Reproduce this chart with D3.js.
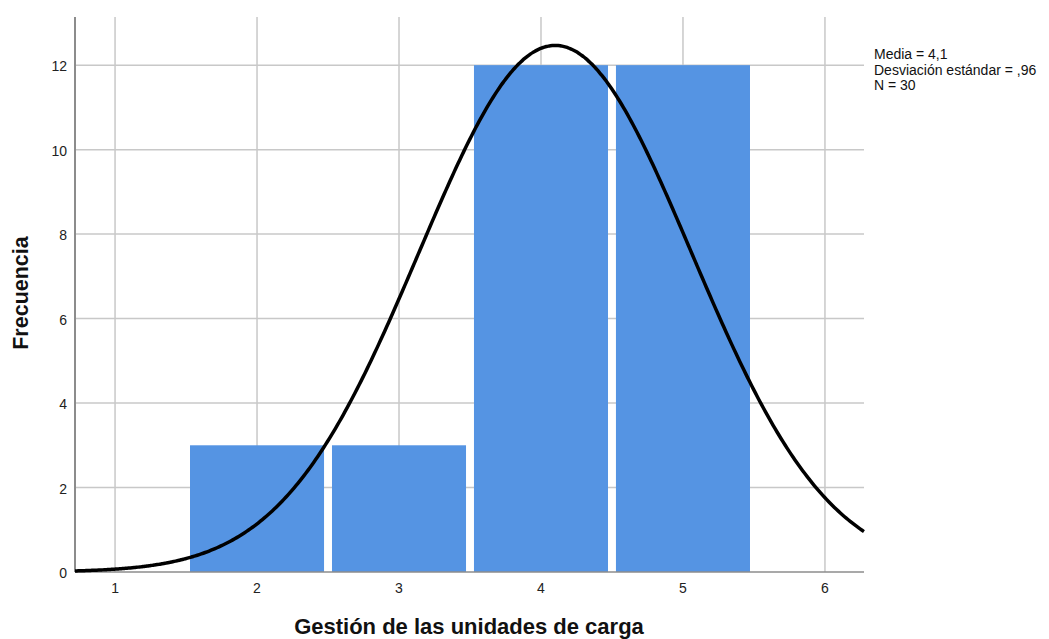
<!DOCTYPE html>
<html><head><meta charset="utf-8">
<script src="https://cdn.jsdelivr.net/npm/d3@7"></script>
<style>body{margin:0;background:#fff}svg{display:block}text{font-family:"Liberation Sans",Arial,sans-serif}</style>
</head><body>
<svg id="c" width="1049" height="639"></svg>
<script>
const binCenters = [2, 3, 4, 5];
const frequencies = [3, 3, 12, 12];
const xTicks = [1, 2, 3, 4, 5, 6];
const yTicks = [0, 2, 4, 6, 8, 10, 12];
const statsLines = ["Media = 4,1", "Desviación estándar = ,96", "N = 30"];
const mean = 4.1, sd = 0.96, n = 30, binWidth = 1;

const svg = d3.select("#c");
const L = 75, R = 864, T = 17, B = 572;
const x = d3.scaleLinear().domain([0.718, 6.275]).range([L, R]);
const y = d3.scaleLinear().domain([0, 13.14]).range([B, T]);

// grid
svg.append("g").selectAll("line").data(xTicks).join("line")
  .attr("x1", d => x(d)).attr("x2", d => x(d)).attr("y1", T).attr("y2", B)
  .attr("stroke", "#c8c8c8").attr("stroke-width", 1.5);
svg.append("g").selectAll("line").data(yTicks.filter(d => d > 0)).join("line")
  .attr("x1", L).attr("x2", R).attr("y1", d => y(d)).attr("y2", d => y(d))
  .attr("stroke", "#c8c8c8").attr("stroke-width", 1.5);

// bars
const gap = 0.028;
svg.append("g").selectAll("rect").data(binCenters).join("rect")
  .attr("x", d => x(d - binWidth / 2 + gap))
  .attr("width", d => x(d + binWidth / 2 - gap) - x(d - binWidth / 2 + gap))
  .attr("y", (d, i) => y(frequencies[i]))
  .attr("height", (d, i) => y(0) - y(frequencies[i]))
  .attr("fill", "#5594e3");

// axes
svg.append("line").attr("x1", L).attr("x2", L).attr("y1", T).attr("y2", B)
  .attr("stroke", "#8c8c8c").attr("stroke-width", 2);
svg.append("line").attr("x1", L).attr("x2", R).attr("y1", B).attr("y2", B)
  .attr("stroke", "#8c8c8c").attr("stroke-width", 1.5);

// normal curve
const pts = d3.range(0, 401).map(i => {
  const xv = x.domain()[0] + (x.domain()[1] - x.domain()[0]) * i / 400;
  const yv = n * binWidth / (sd * Math.sqrt(2 * Math.PI)) * Math.exp(-0.5 * ((xv - mean) / sd) ** 2);
  return [xv, yv];
});
svg.append("path").datum(pts)
  .attr("d", d3.line().x(d => x(d[0])).y(d => y(d[1])).curve(d3.curveBasis))
  .attr("fill", "none").attr("stroke", "#000").attr("stroke-width", 3.5);

// tick labels
svg.append("g").selectAll("text").data(yTicks).join("text")
  .attr("x", 67).attr("y", d => y(d) + 6).attr("text-anchor", "end")
  .attr("font-size", 14).attr("fill", "#222").text(d => d);
svg.append("g").selectAll("text").data(xTicks).join("text")
  .attr("x", d => x(d)).attr("y", 593).attr("text-anchor", "middle")
  .attr("font-size", 14).attr("fill", "#222").text(d => d);

// axis titles
svg.append("text").attr("transform", "translate(28,293) rotate(-90)")
  .attr("text-anchor", "middle").attr("font-size", 21.5).attr("font-weight", "bold")
  .attr("fill", "#111").text("Frecuencia");
svg.append("text").attr("x", 469).attr("y", 634)
  .attr("text-anchor", "middle").attr("font-size", 22).attr("font-weight", "bold")
  .attr("fill", "#111").text("Gestión de las unidades de carga");

// stats legend
svg.append("g").selectAll("text").data(statsLines).join("text")
  .attr("x", 874).attr("y", (d, i) => 59 + i * 15.5)
  .attr("font-size", 14).attr("fill", "#111").text(d => d);
</script>
</body></html>
